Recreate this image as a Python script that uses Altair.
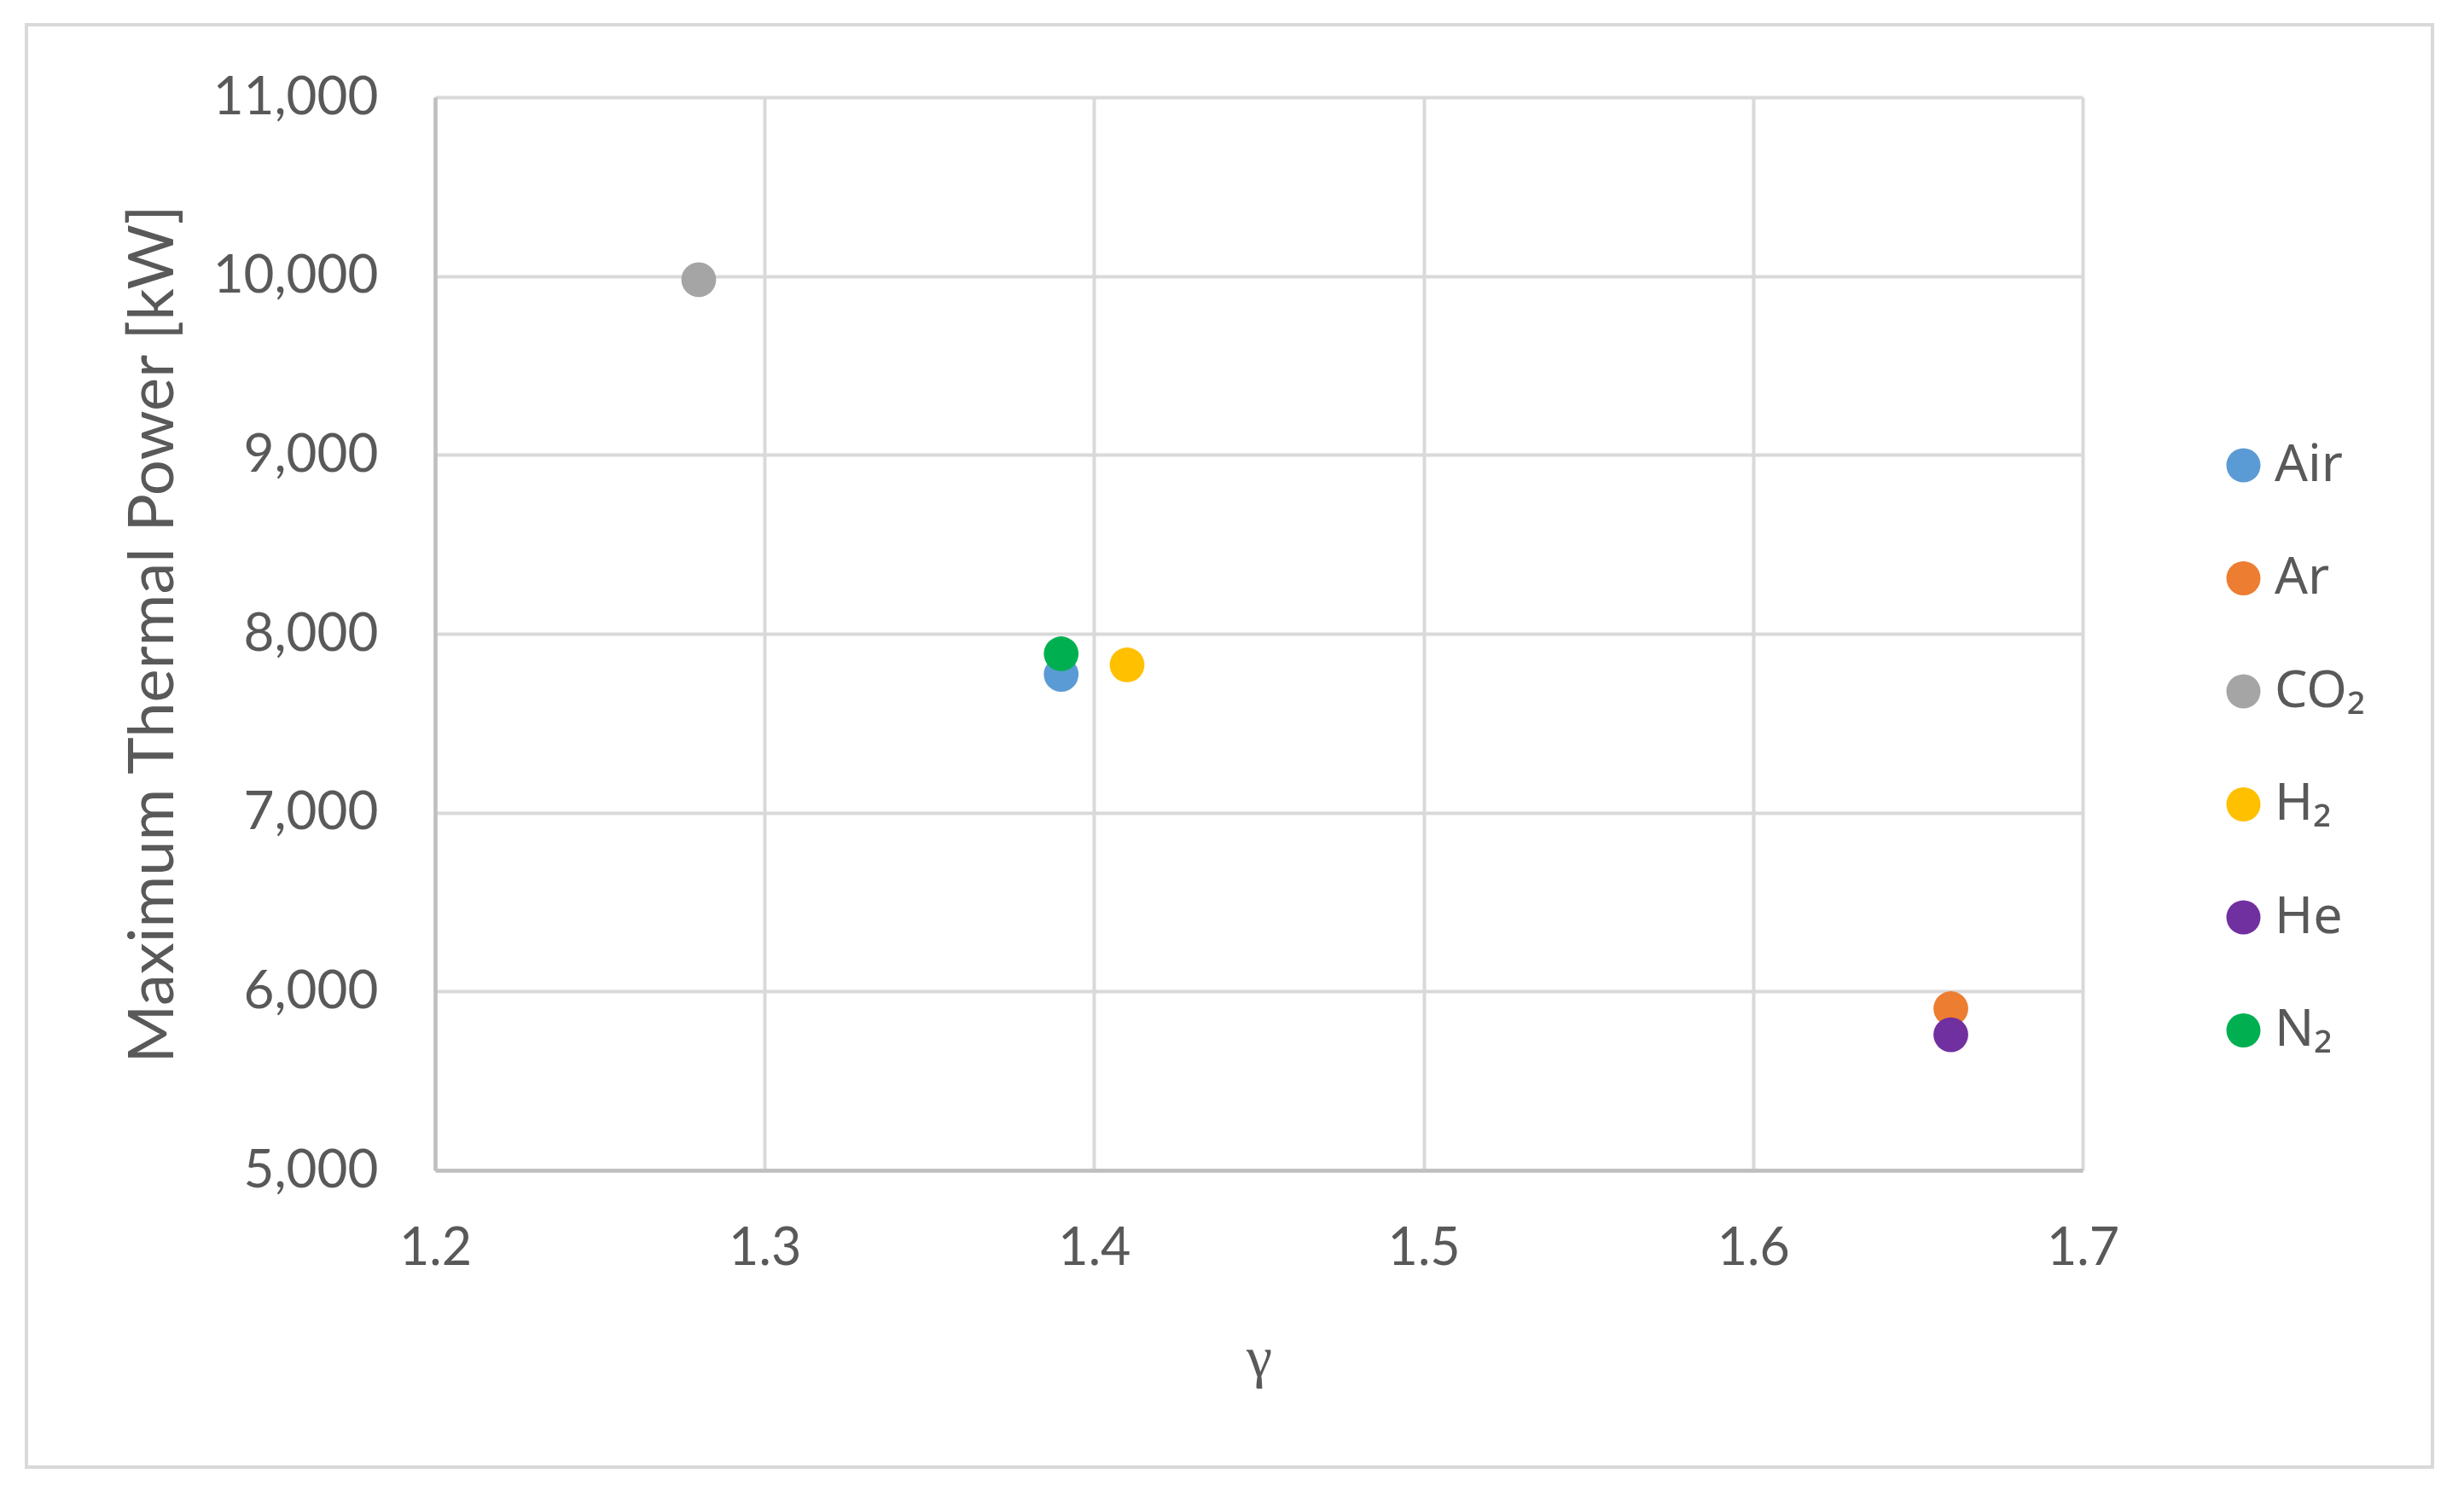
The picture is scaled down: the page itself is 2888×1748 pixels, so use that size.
import altair as alt
import pandas as pd

gases = ["Air", "Ar", "CO₂", "H₂", "He", "N₂"]
gamma = [1.39, 1.66, 1.28, 1.41, 1.66, 1.39]
power = [7773, 5904, 9980, 7826, 5758, 7888]
colors = ["#5B9BD5", "#ED7D31", "#A5A5A5", "#FFC000", "#7030A0", "#00B050"]
x_ticks = [1.2, 1.3, 1.4, 1.5, 1.6, 1.7]
y_ticks = [5000, 6000, 7000, 8000, 9000, 10000, 11000]

df = pd.DataFrame({"gas": gases, "gamma": gamma, "power": power, "order": list(range(len(gases)))})

W, H = 1931, 1258
TXT = "#595959"

border = alt.Chart(pd.DataFrame({"a": [0]})).mark_rect(
    fill=None, stroke="#D9D9D9", strokeWidth=4
).encode(
    x=alt.value(-479), x2=alt.value(2341), y=alt.value(-85), y2=alt.value(1606)
)

points = alt.Chart(df).mark_circle(size=1660, opacity=1).encode(
    x=alt.X("gamma:Q",
            scale=alt.Scale(domain=[1.2, 1.7], nice=False, zero=False),
            axis=alt.Axis(values=x_ticks, format=".1f", title="γ",
                          titleFont="Liberation Serif", titleFontSize=68,
                          titleFontWeight="normal", titleColor=TXT,
                          titleY=221, titleBaseline="middle",
                          labelFont="Lato", labelFontSize=61, labelColor=TXT,
                          labelPadding=92, labelBaseline="middle",
                          labelFlush=False, labelLimit=0,
                          ticks=False, tickSize=0,
                          domainColor="#BFBFBF", domainWidth=4.5,
                          gridColor="#D9D9D9", gridWidth=4)),
    y=alt.Y("power:Q",
            scale=alt.Scale(domain=[5000, 11000], nice=False, zero=False),
            axis=alt.Axis(values=y_ticks, format=",d", title="Maximum Thermal Power [kW]",
                          titleFont="Lato", titleFontSize=74, titleFontWeight="normal",
                          titleColor=TXT, titleX=-330, titleY=629, titleAngle=270,
                          titleBaseline="middle", titleAlign="center",
                          labelFont="Lato", labelFontSize=62, labelColor=TXT,
                          labelPadding=67, labelBaseline="middle",
                          labelFlush=False, labelLimit=0,
                          ticks=False, tickSize=0,
                          domainColor="#BFBFBF", domainWidth=4.5,
                          gridColor="#D9D9D9", gridWidth=4)),
    color=alt.Color("gas:N",
                    scale=alt.Scale(domain=gases, range=colors),
                    legend=alt.Legend(title=None, orient="none", legendX=2089, legendY=401,
                                      symbolType="circle", symbolSize=1600,
                                      symbolStrokeWidth=0, symbolOpacity=1,
                                      labelFont="Noto Sans", labelFontSize=61,
                                      labelColor=TXT, labelOffset=6,
                                      rowPadding=70.5, padding=0, labelLimit=0)),
    order=alt.Order("order:Q"),
)

chart = alt.layer(border, points).properties(
    width=W, height=H,
    padding={"left": 502, "top": 106, "right": 419, "bottom": 354},
    autosize=alt.AutoSizeParams(type="none"),
    background="white",
).configure_view(stroke=None)

chart.save("out.html", embed_options={"renderer": "svg", "actions": False})
